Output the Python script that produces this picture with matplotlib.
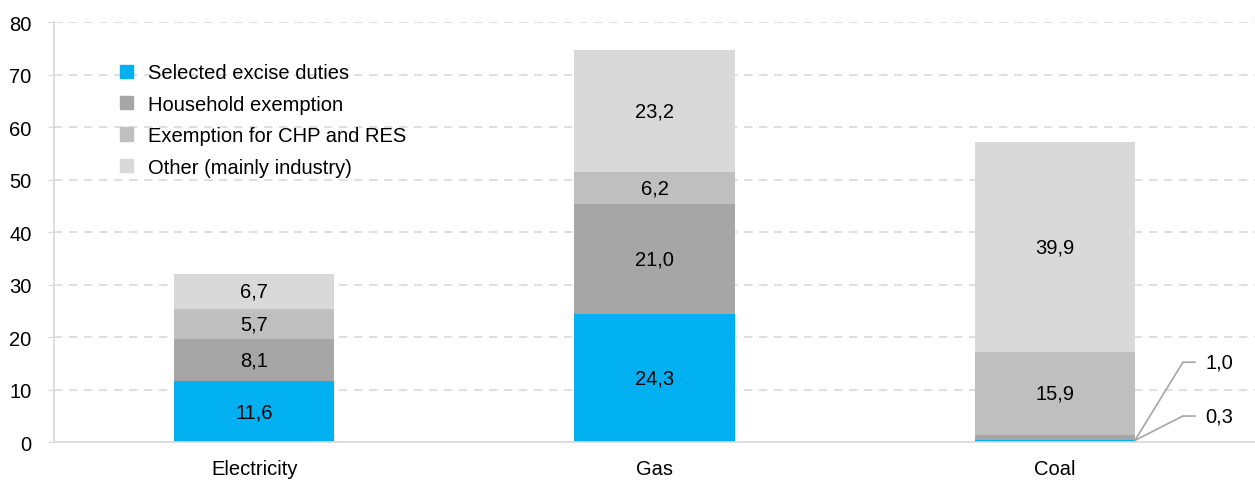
import numpy as np
import matplotlib
matplotlib.use('Agg')
import matplotlib.pyplot as plt
from matplotlib.patches import Patch

plt.rcParams['font.family'] = ['Liberation Sans', 'DejaVu Sans']

categories = ['Electricity', 'Gas', 'Coal']
series_names = ['Selected excise duties', 'Household exemption',
                'Exemption for CHP and RES', 'Other (mainly industry)']
excise = [11.6, 24.3, 0.3]
household = [8.1, 21.0, 1.0]
chp_res = [5.7, 6.2, 15.9]
other = [6.7, 23.2, 39.9]
yticks = [0, 10, 20, 30, 40, 50, 60, 70, 80]

colors = ['#00B0F0', '#A6A6A6', '#BFBFBF', '#D9D9D9']


def fmt(v):
    return ('%.1f' % v).replace('.', ',')


fig = plt.figure(figsize=(12.55, 4.81), dpi=100)
ax = fig.add_axes([0.043, 0.079, 0.957, 0.873])

x = np.arange(len(categories))
width = 0.4
bottom = np.zeros(len(categories))
for vals, col in zip([excise, household, chp_res, other], colors):
    ax.bar(x, vals, width, bottom=bottom, color=col, zorder=2)
    for i, v in enumerate(vals):
        if v >= 2:
            ax.text(x[i], bottom[i] + v / 2, fmt(v), ha='center', va='center',
                    fontsize=14.5, zorder=3)
    bottom += np.array(vals)

# callouts for the thin coal segments
ci = 2
edge = x[ci] + width / 2
small = [(excise[ci], 4.95), (household[ci], 15.2)]
for v, ly in small:
    ax.plot([edge, edge + 0.12, edge + 0.15], [excise[ci], ly, ly],
            color='#A6A6A6', lw=1.2, zorder=3, clip_on=False)
    ax.text(edge + 0.21, ly, fmt(v), ha='center', va='center', fontsize=14.5)

ax.set_xlim(-0.5, 2.5)
ax.set_ylim(0, 80)
ax.set_yticks(yticks)
ax.set_yticklabels([str(t) for t in yticks], fontsize=14.5)
ax.set_xticks(x)
ax.set_xticklabels(categories, fontsize=14.5)
ax.tick_params(axis='x', length=0, pad=12)
ax.tick_params(axis='y', length=4, color='#D9D9D9', pad=12)
ax.yaxis.grid(True, ls=(0, (5, 4)), color='#D9D9D9', lw=1.2, zorder=0)
for s in ['top', 'right']:
    ax.spines[s].set_visible(False)
ax.spines['left'].set_color('#D9D9D9')
ax.spines['bottom'].set_color('#D9D9D9')
ax.spines['left'].set_linewidth(1.2)
ax.spines['bottom'].set_linewidth(1.2)

handles = [Patch(color=c) for c in colors]
leg = ax.legend(handles, series_names, loc='upper left', bbox_to_anchor=(0.04, 0.945),
                frameon=False, fontsize=14.5, handlelength=0.65, handleheight=0.65,
                handletextpad=0.75, labelspacing=0.62)

fig.savefig('out.png', dpi=100)
